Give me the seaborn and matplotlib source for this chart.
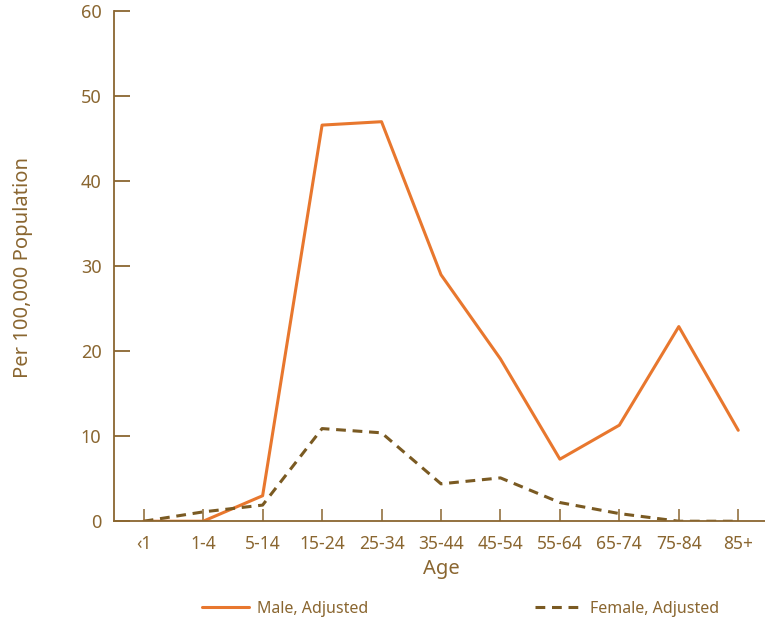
import pandas as pd
import matplotlib
matplotlib.use("Agg")
import matplotlib.pyplot as plt
import seaborn as sns
from matplotlib.lines import Line2D

# ---- data ----
ages = ["<1", "1-4", "5-14", "15-24", "25-34", "35-44", "45-54",
        "55-64", "65-74", "75-84", "85+"]
male = [0.0, 0.0, 3.0, 46.6, 47.0, 29.0, 19.1, 7.3, 11.3, 22.9, 10.7]
female = [0.0, 1.1, 1.9, 10.9, 10.4, 4.4, 5.1, 2.2, 0.9, 0.0, 0.0]
y_ticks = [0, 10, 20, 30, 40, 50, 60]

orange = "#E8772E"
brown = "#7A5A22"
text_c = "#8A6630"

sns.set_style("white")
plt.rcParams["font.family"] = ["Noto Sans", "DejaVu Sans"]

df = pd.DataFrame({
    "Age": ages * 2,
    "value": male + female,
    "series": ["Male, Adjusted"] * len(ages) + ["Female, Adjusted"] * len(ages),
})

fig = plt.figure(figsize=(7.65, 6.22), dpi=100)
ax = fig.add_axes([0.149, 0.162, 0.851, 0.820])

sns.lineplot(data=df, x="Age", y="value", hue="series", style="series",
             palette={"Male, Adjusted": orange, "Female, Adjusted": brown},
             dashes={"Male, Adjusted": "", "Female, Adjusted": (3.2, 2.2)},
             linewidth=2.2, ax=ax, legend=False, sort=False)

ax.set_xlim(-0.5, 10.45)
ax.set_ylim(0, 60)
ax.set_yticks(y_ticks)
ax.set_xticks(range(len(ages)))
ax.set_xticklabels(["‹1"] + ages[1:])

for s in ["top", "right"]:
    ax.spines[s].set_visible(False)
for s in ["left", "bottom"]:
    ax.spines[s].set_color(text_c)
    ax.spines[s].set_linewidth(1.3)

ax.tick_params(axis="y", direction="in", length=11.5, width=1.3, color=text_c,
               labelcolor=text_c, labelsize=13, pad=9, left=True)
ax.tick_params(axis="x", direction="in", length=8.5, width=1.1, color=text_c,
               labelcolor=text_c, labelsize=12.5, pad=10, bottom=True)

ax.set_xlabel("Age", color=text_c, fontsize=14.5)
ax.xaxis.set_label_coords(0.503, -0.074)
ax.set_ylabel("Per 100,000 Population", color=text_c, fontsize=14.5)
ax.yaxis.set_label_coords(-0.124, 0.497)

# legend below the axes
handles = [Line2D([], [], color=orange, lw=2.2),
           Line2D([], [], color=brown, lw=2.2, dashes=(3.2, 2.2))]
fig.legend(handles, ["Male, Adjusted", "Female, Adjusted"], ncol=2,
           loc="center", bbox_to_anchor=(0.602, 0.021), frameon=False,
           fontsize=11.5, labelcolor=text_c, handlelength=2.95,
           columnspacing=10.4, handletextpad=0.5)

fig.savefig("out.png", dpi=100)
